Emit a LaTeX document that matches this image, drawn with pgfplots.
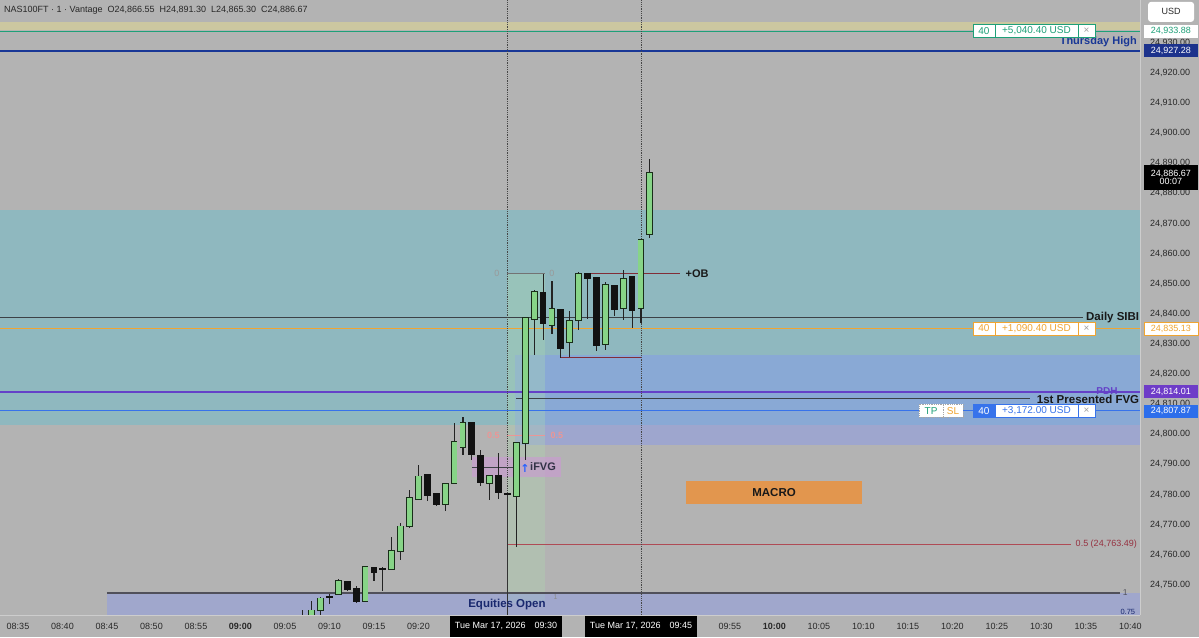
\documentclass[border=0pt]{standalone}
\usepackage{fontspec}
\setmainfont{Liberation Sans}
\newfontfamily\dejavu{DejaVu Sans}
\usepackage{pgfplots}
\usepackage{pgfplotstable}
\pgfplotsset{compat=1.18}

\definecolor{bg}{RGB}{179,179,179}
\definecolor{beige}{RGB}{204,199,160}
\definecolor{tealz}{RGB}{143,184,191}
\definecolor{fvgblue}{RGB}{130,150,245}
\definecolor{stripg}{RGB}{175,222,175}
\definecolor{ifvg}{RGB}{205,150,215}
\definecolor{macro}{RGB}{226,150,78}
\definecolor{tpgreen}{RGB}{30,160,120}
\definecolor{thursblue}{RGB}{25,55,150}
\definecolor{sibigray}{RGB}{60,65,70}
\definecolor{slorange}{RGB}{240,165,50}
\definecolor{pdhpurple}{RGB}{100,65,200}
\definecolor{slblue}{RGB}{55,115,235}
\definecolor{fibred}{RGB}{175,75,85}
\definecolor{fibtext}{RGB}{150,50,65}
\definecolor{fibdark}{RGB}{80,80,90}
\definecolor{obred}{RGB}{130,45,55}
\definecolor{pinkfib}{RGB}{235,150,150}
\definecolor{dotgray}{RGB}{70,70,70}
\definecolor{wick}{RGB}{35,35,35}
\definecolor{gfill}{RGB}{135,212,135}
\definecolor{gedge}{RGB}{25,45,25}
\definecolor{bfill}{RGB}{18,18,18}
\definecolor{navybox}{RGB}{28,50,140}
\definecolor{pdhbox}{RGB}{110,60,200}
\definecolor{bluebox}{RGB}{45,110,235}
\definecolor{axtext}{RGB}{40,40,40}
\definecolor{xgray}{RGB}{160,160,160}
\definecolor{eqnavy}{RGB}{25,40,110}
\definecolor{sep}{RGB}{205,205,205}

\newcommand\fs[1]{\fontsize{#1}{#1}\selectfont}

% Candles, minutes after 08:35 : open high low close
\pgfplotstableread{
m O H L C
32 24736.0 24741.8 24734.0 24739.0
33 24738.0 24744.8 24736.0 24741.5
34 24741.5 24746.1 24739.6 24745.5
36 24747.0 24751.9 24746.6 24751.4
39 24744.6 24756.0 24744.5 24755.9
42 24755.2 24765.8 24755.0 24761.4
43 24761.2 24770.5 24758.3 24769.4
44 24769.4 24781.6 24768.9 24778.8
45 24778.5 24789.9 24778.4 24786.0
48 24776.9 24783.7 24774.6 24783.5
49 24783.8 24803.7 24783.7 24797.4
50 24795.9 24805.9 24793.2 24803.9
53 24783.8 24786.3 24778.2 24786.2
56 24779.4 24797.5 24762.7 24797.1
57 24797.1 24839.0 24791.5 24838.6
58 24838.2 24848.0 24826.4 24847.2
60 24836.4 24850.9 24833.3 24841.5
62 24830.5 24840.8 24825.8 24837.6
63 24837.8 24854.0 24834.7 24853.3
66 24829.9 24850.7 24828.0 24849.7
68 24841.8 24854.4 24837.8 24851.7
70 24841.8 24864.7 24836.9 24864.6
71 24866.55 24891.30 24865.30 24886.67
}\greentab

\pgfplotstableread{
m O H L C
35 24746.1 24747.0 24743.7 24746.1
37 24751.0 24751.2 24747.9 24748.6
38 24748.6 24749.7 24743.9 24744.6
40 24755.7 24755.8 24751.2 24754.3
41 24755.2 24755.9 24747.9 24755.2
46 24786.5 24786.6 24777.7 24780.0
47 24780.2 24780.3 24776.2 24776.9
51 24803.7 24803.8 24791.5 24793.5
52 24792.8 24794.8 24782.7 24784.0
54 24786.2 24793.7 24778.5 24780.7
55 24780.2 24780.3 24780.1 24780.2
59 24846.9 24853.3 24831.4 24836.9
61 24841.3 24841.4 24825.3 24828.8
64 24853.3 24853.4 24838.2 24852.0
65 24851.9 24852.0 24827.5 24829.7
67 24849.3 24849.4 24839.4 24841.5
69 24852.4 24852.5 24835.2 24841.3
}\blacktab

\tikzset{
  pb/.style={anchor=west, minimum height=13pt, inner sep=0pt, outer sep=0pt, font=\fs{10}, line width=0.8pt},
  ax/.style={minimum width=54pt, minimum height=13pt, inner sep=0pt, font=\fs{9}},
  bl/.style={inner sep=0pt, font=\fs{11.5}\bfseries},
}

\begin{document}
\begin{tikzpicture}
\begin{axis}[
  at={(0pt,22pt)}, anchor=south west,
  width=1140pt, height=615pt, scale only axis,
  xmin=-2.0225, xmax=126.067, ymin=24740, ymax=24944.2,
  set layers, clip mode=individual,
  axis background/.style={fill=bg},
  axis x line*=bottom, axis y line*=right,
  axis line style={draw=sep, line width=0.8pt},
  major tick length=0pt,
  scaled y ticks=false,
  ytick={24750,24760,24770,24780,24790,24800,24810,24820,24830,24840,24850,24860,24870,24880,24890,24900,24910,24920,24930},
  yticklabel style={font=\fs{9}, text=axtext, anchor=west, xshift=10pt, inner sep=0pt,
    /pgf/number format/fixed, /pgf/number format/fixed zerofill,
    /pgf/number format/precision=2, /pgf/number format/1000 sep={,},
    /pgf/number format/assume math mode=true},
  xtick={0,5,10,15,20,25,30,35,40,45,80,85,90,95,100,105,110,115,120,125},
  xticklabels={08:35,08:40,08:45,08:50,08:55,{\bfseries 09:00},09:05,09:10,09:15,09:20,09:55,{\bfseries 10:00},10:05,10:10,10:15,10:20,10:25,10:30,10:35,10:40},
  xticklabel style={font=\fs{9}, text=axtext, anchor=center, yshift=-11pt, inner sep=0pt},
]
% ---- whole picture background, below the tick labels
\begin{pgfonlayer}{axis background}
\fill[bg] (axis cs:-2.0225,24732.7) rectangle (axis cs:132.75,24944.2);
\end{pgfonlayer}
% ---- zones
\addplot[draw=none, fill=beige] coordinates {(-2.0225,24934.3) (126.067,24934.3) (126.067,24936.93) (-2.0225,24936.93)};
\addplot[draw=none, fill=tealz] coordinates {(-2.0225,24803.13) (126.067,24803.13) (126.067,24874.5) (-2.0225,24874.5)};
\addplot[draw=none, fill=fvgblue, fill opacity=0.42] coordinates {(55.84,24796.5) (126.067,24796.5) (126.067,24826.4) (55.84,24826.4)};
\addplot[draw=none, fill=stripg, fill opacity=0.3] coordinates {(55,24744) (59.2,24744) (59.2,24853.3) (55,24853.3)};
\addplot[draw=none, fill=fvgblue, fill opacity=0.38] coordinates {(10,24739) (126.067,24739) (126.067,24747.36) (10,24747.36)};
\addplot[draw=none, fill=ifvg, fill opacity=0.55] coordinates {(51,24785.9) (61,24785.9) (61,24792.5) (51,24792.5)};
\addplot[draw=none, fill=macro] coordinates {(75.06,24776.9) (94.8,24776.9) (94.8,24784.5) (75.06,24784.5)};
% ---- lines
\addplot[tpgreen, line width=1pt] coordinates {(-2.0225,24933.88) (126.067,24933.88)};
\addplot[thursblue, line width=1.8pt] coordinates {(-2.0225,24927.28) (126.067,24927.28)};
\addplot[sibigray, line width=1pt] coordinates {(-2.0225,24838.66) (119.7,24838.66)};
\addplot[slorange, line width=1.2pt] coordinates {(-2.0225,24835.13) (126.067,24835.13)};
\addplot[pdhpurple, line width=1.6pt] coordinates {(-2.0225,24814.01) (126.067,24814.01)};
\addplot[sibigray, line width=1pt] coordinates {(56,24811.77) (113.7,24811.77)};
\addplot[slblue, line width=1.2pt] coordinates {(-2.0225,24807.87) (126.067,24807.87)};
\addplot[fibred, line width=0.8pt] coordinates {(55,24763.49) (118.3,24763.49)};
\addplot[fibdark, line width=1.5pt] coordinates {(10,24747.36) (123.8,24747.36)};
\addplot[obred, line width=1.2pt] coordinates {(63.8,24853.3) (74.4,24853.3)};
\addplot[obred, line width=1.2pt] coordinates {(61,24825.4) (70,24825.4)};
\addplot[sibigray, line width=1pt] coordinates {(51,24788.9) (55.9,24788.9)};
\addplot[black!55, line width=0.6pt] coordinates {(55,24853.3) (59.2,24853.3)};
\addplot[pinkfib, line width=0.6pt] coordinates {(55,24799.5) (59.2,24799.5)};
\addplot[dotgray, densely dotted, line width=0.8pt] coordinates {(55,24740) (55,24944.2)};
\addplot[dotgray, densely dotted, line width=0.8pt] coordinates {(70,24740) (70,24944.2)};
\addplot[black!80, line width=1pt] coordinates {(55,24740) (55,24780.2)};
% ---- candles: wicks
\addplot[draw=none, mark=none, error bars/.cd, y dir=both, y explicit, error mark=none,
  error bar style={draw=wick, line width=1.1pt}]
  table[x=m, y=C, y error plus expr=\thisrow{H}-\thisrow{C}, y error minus expr=\thisrow{C}-\thisrow{L}] {\greentab};
\addplot[draw=none, mark=none, error bars/.cd, y dir=both, y explicit, error mark=none,
  error bar style={draw=wick, line width=1.1pt}]
  table[x=m, y=C, y error plus expr=\thisrow{H}-\thisrow{C}, y error minus expr=\thisrow{C}-\thisrow{L}] {\blacktab};
% ---- candles: bodies
\addplot[draw=none, mark=none, error bars/.cd, y dir=both, y explicit, error mark=none,
  error bar style={draw=gedge, line width=6.8pt}]
  table[x=m, y=C, y error plus expr=0.3, y error minus expr=\thisrow{C}-\thisrow{O}+0.3] {\greentab};
\addplot[draw=none, mark=none, error bars/.cd, y dir=minus, y explicit, error mark=none,
  error bar style={draw=gfill, line width=5pt}]
  table[x=m, y=C, y error minus expr=\thisrow{C}-\thisrow{O}] {\greentab};
\addplot[draw=none, mark=none, error bars/.cd, y dir=both, y explicit, error mark=none,
  error bar style={draw=bfill, line width=6.8pt}]
  table[x=m, y=C, y error plus expr=\thisrow{O}-\thisrow{C}+0.3, y error minus expr=0.3] {\blacktab};

% ---- texts
\node[anchor=west, font=\fs{9}, text=axtext, inner sep=0pt] at (axis cs:-1.57,24940.9)
  {NAS100FT · 1 · Vantage\hspace{5pt}O24,866.55\hspace{5pt}H24,891.30\hspace{5pt}L24,865.30\hspace{5pt}C24,886.67};
\node[anchor=east, inner sep=0pt, font=\fs{11}\bfseries, text=thursblue] at (axis cs:125.73,24930.2) {Thursday High};
\node[bl, anchor=east, text=black!90] at (axis cs:126.0,24838.9) {Daily SIBI};
\node[inner sep=0pt, font=\fs{10}\bfseries, text=pdhpurple] at (axis cs:122.36,24814.4) {PDH};
\node[bl, anchor=east, text=black!90] at (axis cs:126.0,24811.6) {1st Presented FVG};
\node[bl, font=\fs{11}\bfseries, text=black!90] at (axis cs:76.3,24853.3) {+OB};
\node[bl, text=black!90] at (axis cs:84.95,24780.7) {MACRO};
\node[bl, anchor=west, font=\fs{11}\bfseries, text={rgb,255:red,50;green,50;blue,70}] at (axis cs:57.53,24789.2) {iFVG};
\node[inner sep=0pt, font=\dejavu\fs{11}\bfseries, text={rgb,255:red,41;green,98;blue,255}] at (axis cs:56.97,24788.6) {↑};
\node[bl, text=eqnavy] at (axis cs:54.94,24743.37) {Equities Open};
\node[anchor=east, inner sep=0pt, font=\fs{9}, text=fibtext] at (axis cs:125.73,24763.6) {0.5 (24,763.49)};
\node[inner sep=0pt, font=\fs{8.5}, text=fibdark] at (axis cs:124.4,24747.6) {1};
\node[inner sep=0pt, font=\fs{7.5}, text=eqnavy] at (axis cs:124.7,24741.0) {0.75};
\node[inner sep=0pt, font=\fs{9}, text=black!40] at (axis cs:53.8,24853.3) {0};
\node[inner sep=0pt, font=\fs{9}, text=black!40] at (axis cs:60.0,24853.3) {0};
\node[inner sep=0pt, font=\fs{9}\bfseries, text=pinkfib] at (axis cs:53.4,24799.5) {0.5};
\node[inner sep=0pt, font=\fs{9}\bfseries, text=pinkfib] at (axis cs:60.56,24799.5) {0.5};
\node[inner sep=0pt, font=\fs{7}, text=black!45] at (axis cs:60.4,24745.9) {1};

% ---- position boxes
\node[pb, draw=tpgreen, fill=white, text=tpgreen, minimum width=22pt] (g1) at (axis cs:107.30,24933.88) {40};
\node[pb, draw=tpgreen, fill=white, text=tpgreen, minimum width=83pt] (g2) at (g1.east) {+5,040.40 USD};
\node[pb, draw=tpgreen, fill=white, text=xgray, minimum width=17pt] at (g2.east) {×};
\node[pb, draw=slorange, fill=white, text=slorange, minimum width=22pt] (o1) at (axis cs:107.30,24835.13) {40};
\node[pb, draw=slorange, fill=white, text=slorange, minimum width=83pt] (o2) at (o1.east) {+1,090.40 USD};
\node[pb, draw=slorange, fill=white, text=xgray, minimum width=17pt] at (o2.east) {×};
\node[pb, draw=black!35, densely dotted, fill=white, text=tpgreen, minimum width=24pt] (t1) at (axis cs:101.24,24807.87) {TP};
\node[pb, draw=black!35, densely dotted, fill=white, text=slorange, minimum width=20pt] at (t1.east) {SL};
\node[pb, draw=slblue, fill=slblue, text=white, minimum width=22pt] (b1) at (axis cs:107.30,24807.87) {40};
\node[pb, draw=slblue, fill=white, text=slblue, minimum width=83pt] (b2) at (b1.east) {+3,172.00 USD};
\node[pb, draw=slblue, fill=white, text=xgray, minimum width=17pt] at (b2.east) {×};

% ---- price axis boxes
\node[rounded corners=3pt, fill=white, minimum width=46pt, minimum height=20pt, inner sep=0pt, font=\fs{9}, text=axtext] at (axis cs:129.56,24940.25) {USD};
\node[ax, fill=white, text=tpgreen] at (axis cs:129.55,24933.88) {24,933.88};
\node[ax, fill=navybox, text=white] at (axis cs:129.55,24927.28) {24,927.28};
\node[ax, fill=black, text=white, minimum height=25pt, align=center, font=\fs{9}] at (axis cs:129.55,24885.14) {24,886.67\\[-1pt]00:07};
\node[ax, draw=slorange, line width=0.8pt, fill=white, text=slorange] at (axis cs:129.55,24835.13) {24,835.13};
\node[ax, fill=pdhbox, text=white] at (axis cs:129.55,24814.1) {24,814.01};
\node[ax, fill=bluebox, text=white] at (axis cs:129.55,24807.6) {24,807.87};

% ---- time axis boxes
\node[fill=black, text=white, minimum width=112pt, minimum height=21pt, inner sep=0pt, font=\fs{9}] at (axis cs:54.83,24736.24) {Tue Mar 17, 2026\hspace{9pt}09:30};
\node[fill=black, text=white, minimum width=112pt, minimum height=21pt, inner sep=0pt, font=\fs{9}] at (axis cs:70,24736.24) {Tue Mar 17, 2026\hspace{9pt}09:45};
\end{axis}
\pgfresetboundingbox
\path[use as bounding box] (0pt,0pt) rectangle (1199pt,637pt);
\end{tikzpicture}
\end{document}
